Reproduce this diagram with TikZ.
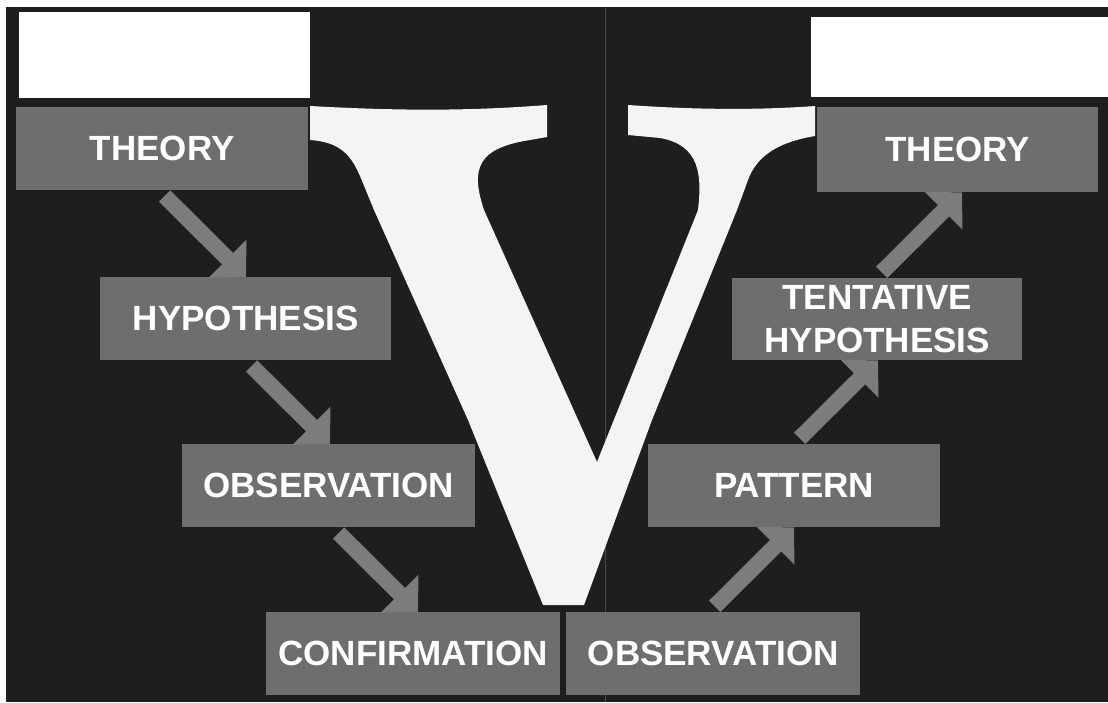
\documentclass[tikz,border=0pt]{standalone}
\usepackage{fontspec}
\setmainfont{Liberation Sans}
\usetikzlibrary{arrows.meta}
\definecolor{bgdark}{HTML}{1E1E1E}
\definecolor{boxgray}{HTML}{6E6E6E}
\definecolor{arrowgray}{HTML}{7C7C7C}
\definecolor{vwhite}{HTML}{F4F4F4}
\definecolor{seam}{HTML}{4A4A4A}
\begin{document}
\begin{tikzpicture}[x=1pt,y=-1pt,
  box/.style={fill=boxgray, draw=none, inner sep=0pt, text=white, anchor=north west,
    font=\fontsize{35}{43}\selectfont\bfseries, align=center, minimum height=83pt},
  blank/.style={fill=white, draw=none, inner sep=0pt, anchor=north west},
  flow/.style={draw=arrowgray, line width=16pt, shorten <=8pt, -{Triangle[length=26pt,width=52pt]}}]
\useasboundingbox (0,0) rectangle (1108,702);
\fill[white] (0,0) rectangle (1108,702);
\fill[bgdark] (6,7) rectangle (1108,702);
% faint scan seam
\draw[seam, line width=0.8pt] (605,8) -- (605,702);

% white label boxes
\node[blank, minimum width=291pt, minimum height=86pt] (wL) at (19,12) {};
\node[blank, minimum width=297pt, minimum height=80pt] (wR) at (811,17) {};

% the large serif V
\fill[vwhite] (310,106) .. controls (400,111) and (470,111) .. (547,105)
  -- (547,137) -- (530,140) .. controls (478,148) and (470,168) .. (484,210)
  -- (597,462) -- (698,210)
  .. controls (702,175) and (700,145) .. (660,138) -- (628,135)
  -- (628,105) .. controls (700,110) and (760,110) .. (815,106)
  -- (815,136) .. controls (785,141) and (758,152) .. (748,180)
  -- (737,210) -- (652,420) -- (584,605) -- (543,605)
  -- (468,420) -- (374,210) -- (360,176)
  .. controls (351,155) and (340,142) .. (310,140) -- cycle;

% boxes
\node[box, minimum width=292pt] (thL) at (16,107) {THEORY};
\node[box, minimum width=291pt] (hyp) at (100,277) {HYPOTHESIS};
\node[box, minimum width=293pt] (obsL) at (182,444) {OBSERVATION};
\node[box, minimum width=294pt] (conf) at (266,612) {CONFIRMATION};
\node[box, minimum width=294pt] (obsR) at (566,612) {OBSERVATION};
\node[box, minimum width=292pt] (pat) at (648,444) {PATTERN};
\node[box, minimum width=290pt, minimum height=82pt] (tent) at (732,278) {TENTATIVE\\HYPOTHESIS};
\node[box, minimum width=281pt, minimum height=85pt] (thR) at (817,107) {THEORY};

% arrows
\draw[flow] ([xshift=143pt]thL.south west) -- ([xshift=146pt]hyp.north west);
\draw[flow] ([xshift=146pt]hyp.south west) -- ([xshift=148pt]obsL.north west);
\draw[flow] ([xshift=151pt]obsL.south west) -- ([xshift=152pt]conf.north west);
\draw[flow] ([xshift=143pt]obsR.north west) -- ([xshift=146pt]pat.south west);
\draw[flow] ([xshift=146pt]pat.north west) -- ([xshift=146pt]tent.south west);
\draw[flow] ([xshift=144pt]tent.north west) -- ([xshift=145pt]thR.south west);
\end{tikzpicture}
\end{document}
